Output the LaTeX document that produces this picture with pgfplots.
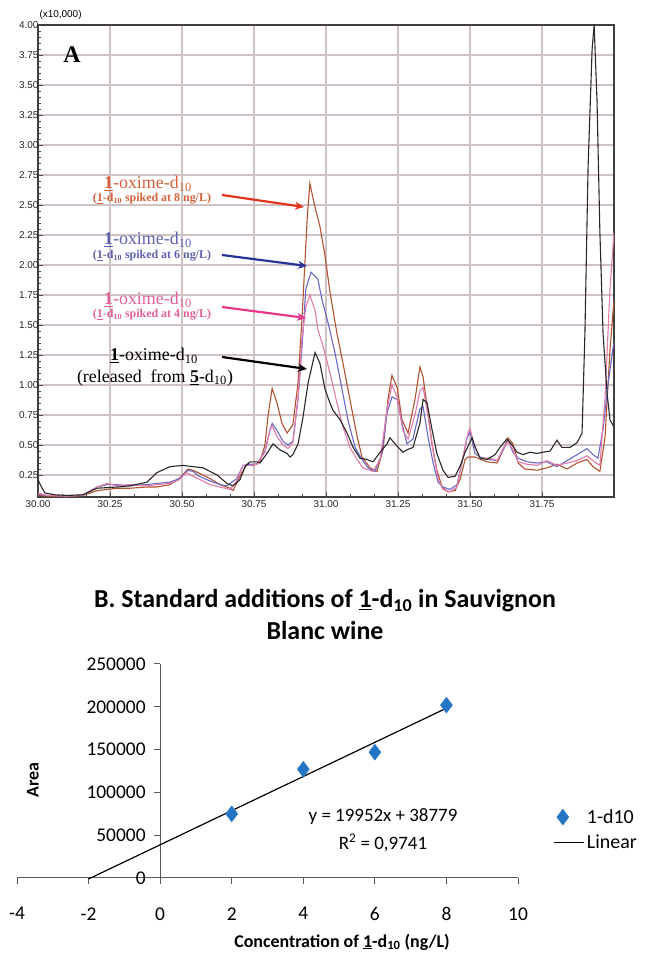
\documentclass[border=0pt]{standalone}
\usepackage{pgfplots}
\pgfplotsset{compat=1.18}
\usepackage{fontspec}
\setmainfont{Liberation Serif}
\setsansfont{Liberation Sans}
\newfontfamily\calibri{Carlito}
\usetikzlibrary{arrows.meta}

\definecolor{cBrown}{RGB}{178,82,48}
\definecolor{cBlue}{RGB}{104,104,200}
\definecolor{cPink}{RGB}{226,122,170}
\definecolor{cBlack}{RGB}{40,40,40}
\definecolor{tRed}{RGB}{214,96,58}
\definecolor{aRed}{RGB}{228,52,30}
\definecolor{tBlue}{RGB}{96,96,176}
\definecolor{aBlue}{RGB}{40,52,150}
\definecolor{tPink}{RGB}{226,96,154}
\definecolor{aPink}{RGB}{232,56,138}
\definecolor{gridc}{RGB}{208,194,194}
\definecolor{xlblue}{RGB}{36,118,196}

\newcommand{\oxime}{\underline{\textbf{1}}-oxime-d\textsubscript{10}}

\begin{document}
\begin{tikzpicture}[x=1bp,y=1bp]
\useasboundingbox (0,0) rectangle (651,956);

% A: chromatogram
\begin{axis}[
    at={(38bp,459bp)}, anchor=south west,
    scale only axis, width=576bp, height=472bp,
    xmin=30, xmax=32, ymin=0.067, ymax=4,
    xtick={30,30.25,...,31.8}, ytick={0.25,0.5,...,4.01},
    minor x tick num=2, minor y tick num=4,
    xticklabel={\pgfmathprintnumber[fixed,fixed zerofill,precision=2]{\tick}},
    yticklabel={\pgfmathprintnumber[fixed,fixed zerofill,precision=2]{\tick}},
    /pgf/number format/assume math mode=true,
    ticklabel style={font=\sffamily\fontsize{10}{11}\selectfont, text=black!85},
    yticklabel style={xshift=4bp},
    tick pos=left, tick align=inside,
    major tick length=5bp, minor tick length=3bp,
    tick style={black!70, line width=0.7bp},
    xmajorgrids, ymajorgrids,
    major grid style={draw=gridc, line width=1.3bp},
    axis line style={black!75, line width=1.2bp},
    no markers, every axis plot/.append style={line width=1.1bp},
]
% 8 ng/L
\addplot[cBrown] coordinates {
(30.000,0.08) (30.03,0.075) (30.10,0.07) (30.156,0.08) (30.205,0.12) (30.274,0.14) (30.319,0.14)
(30.378,0.15) (30.413,0.15) (30.458,0.17) (30.490,0.22) (30.521,0.30) (30.538,0.29) (30.573,0.25)
(30.597,0.22) (30.632,0.17) (30.667,0.14) (30.677,0.12) (30.701,0.24) (30.726,0.34) (30.747,0.33)
(30.771,0.36) (30.788,0.50) (30.799,0.75) (30.813,0.97) (30.830,0.85) (30.847,0.68) (30.865,0.60)
(30.885,0.67) (30.903,1.02) (30.917,1.57) (30.935,2.40) (30.944,2.68) (30.962,2.48) (30.979,2.32)
(30.997,2.07) (31.014,1.77) (31.038,1.43) (31.059,1.18) (31.083,0.88) (31.108,0.57) (31.125,0.40)
(31.153,0.31) (31.177,0.28) (31.198,0.46) (31.215,0.88) (31.229,1.08) (31.247,0.98) (31.264,0.71)
(31.285,0.60) (31.309,0.88) (31.326,1.15) (31.337,1.07) (31.351,0.82) (31.368,0.51) (31.385,0.29)
(31.403,0.15) (31.424,0.11) (31.448,0.12) (31.465,0.21) (31.483,0.38) (31.493,0.40) (31.517,0.40)
(31.559,0.36) (31.594,0.35) (31.615,0.46) (31.632,0.56) (31.649,0.51) (31.667,0.35) (31.691,0.30)
(31.733,0.29) (31.767,0.31) (31.802,0.34) (31.837,0.30) (31.872,0.35) (31.906,0.38) (31.927,0.32)
(31.951,0.28) (31.969,0.57) (31.986,1.29) (32.000,1.71)};
% 6 ng/L
\addplot[cBlue] coordinates {
(30.000,0.09) (30.03,0.08) (30.10,0.075) (30.156,0.085) (30.205,0.15) (30.240,0.17) (30.274,0.17)
(30.319,0.16) (30.378,0.17) (30.413,0.18) (30.458,0.19) (30.490,0.22) (30.521,0.29) (30.538,0.28)
(30.560,0.24) (30.597,0.20) (30.632,0.17) (30.656,0.16) (30.690,0.22) (30.712,0.33) (30.736,0.34)
(30.760,0.34) (30.788,0.45) (30.805,0.62) (30.813,0.68) (30.830,0.62) (30.851,0.53) (30.868,0.50)
(30.885,0.53) (30.903,0.88) (30.917,1.33) (30.930,1.80) (30.948,1.94) (30.965,1.90) (30.972,1.88)
(30.986,1.71) (31.007,1.52) (31.031,1.27) (31.056,0.96) (31.076,0.71) (31.101,0.48) (31.125,0.38)
(31.146,0.31) (31.170,0.28) (31.194,0.43) (31.212,0.77) (31.229,0.90) (31.247,0.88) (31.267,0.65)
(31.281,0.51) (31.302,0.55) (31.326,0.80) (31.337,0.82) (31.354,0.57) (31.372,0.35) (31.389,0.19)
(31.406,0.15) (31.431,0.13) (31.455,0.17) (31.472,0.35) (31.490,0.56) (31.500,0.61) (31.517,0.43)
(31.535,0.40) (31.569,0.38) (31.594,0.37) (31.615,0.46) (31.632,0.54) (31.649,0.44) (31.667,0.39)
(31.698,0.36) (31.733,0.35) (31.767,0.36) (31.802,0.32) (31.837,0.37) (31.872,0.42) (31.906,0.47)
(31.927,0.42) (31.944,0.39) (31.962,0.63) (31.979,1.00) (31.997,1.32) (32.000,1.35)};
% 4 ng/L
\addplot[cPink] coordinates {
(30.000,0.10) (30.03,0.08) (30.10,0.075) (30.156,0.08) (30.205,0.15) (30.240,0.18) (30.274,0.16)
(30.319,0.17) (30.378,0.16) (30.413,0.17) (30.458,0.18) (30.490,0.21) (30.515,0.27) (30.538,0.24)
(30.573,0.20) (30.597,0.17) (30.632,0.15) (30.667,0.13) (30.690,0.20) (30.712,0.33) (30.736,0.33)
(30.760,0.34) (30.788,0.44) (30.805,0.62) (30.813,0.66) (30.830,0.57) (30.851,0.50) (30.868,0.47)
(30.885,0.52) (30.903,0.90) (30.917,1.40) (30.930,1.65) (30.944,1.75) (30.962,1.62) (30.972,1.46)
(30.990,1.32) (31.014,1.10) (31.038,0.85) (31.059,0.65) (31.083,0.48) (31.108,0.38) (31.128,0.31)
(31.163,0.28) (31.188,0.38) (31.212,0.80) (31.229,1.00) (31.247,0.90) (31.267,0.62) (31.285,0.55)
(31.309,0.75) (31.326,0.95) (31.337,0.98) (31.354,0.75) (31.372,0.45) (31.389,0.22) (31.406,0.13)
(31.431,0.11) (31.455,0.15) (31.472,0.36) (31.493,0.60) (31.500,0.64) (31.517,0.48) (31.535,0.39)
(31.569,0.39) (31.594,0.37) (31.615,0.47) (31.632,0.53) (31.649,0.46) (31.667,0.36) (31.698,0.34)
(31.733,0.33) (31.767,0.37) (31.802,0.33) (31.837,0.35) (31.872,0.37) (31.906,0.41) (31.927,0.37)
(31.951,0.33) (31.969,0.90) (31.986,1.80) (32.000,2.27)};
% released from 5-d10
\addplot[cBlack] coordinates {
(30.000,0.21) (30.010,0.16) (30.024,0.10) (30.06,0.085) (30.10,0.08) (30.156,0.085) (30.205,0.14)
(30.274,0.15) (30.319,0.16) (30.378,0.19) (30.413,0.27) (30.458,0.32) (30.503,0.33) (30.538,0.32)
(30.573,0.31) (30.622,0.25) (30.656,0.18) (30.677,0.16) (30.701,0.21) (30.719,0.32) (30.736,0.36)
(30.760,0.36) (30.771,0.35) (30.795,0.43) (30.816,0.51) (30.840,0.46) (30.865,0.43) (30.875,0.40)
(30.885,0.42) (30.903,0.51) (30.920,0.73) (30.938,1.02) (30.962,1.27) (30.979,1.18) (30.997,0.96)
(31.014,0.85) (31.024,0.79) (31.049,0.71) (31.073,0.60) (31.094,0.48) (31.118,0.39) (31.142,0.38)
(31.163,0.36) (31.188,0.44) (31.212,0.51) (31.222,0.56) (31.247,0.49) (31.267,0.44) (31.281,0.46)
(31.302,0.48) (31.326,0.68) (31.337,0.88) (31.351,0.85) (31.368,0.63) (31.385,0.43) (31.406,0.29)
(31.424,0.23) (31.448,0.24) (31.465,0.32) (31.483,0.44) (31.507,0.56) (31.517,0.49) (31.535,0.39)
(31.559,0.38) (31.587,0.42) (31.604,0.48) (31.628,0.55) (31.646,0.50) (31.663,0.44) (31.684,0.42)
(31.708,0.44) (31.733,0.43) (31.753,0.44) (31.778,0.45) (31.802,0.54) (31.819,0.48) (31.847,0.48)
(31.872,0.52) (31.889,0.60) (31.899,1.43) (31.910,2.82) (31.924,3.80) (31.931,4.00) (31.941,3.37)
(31.951,2.27) (31.962,1.43) (31.976,0.93) (31.986,0.71) (32.000,0.65)};
\end{axis}

% annotations of panel A
\node[font=\sffamily\fontsize{10}{11}\selectfont, anchor=west] at (36,941) {(x10,000)};
\node[font=\bfseries\fontsize{24}{26}\selectfont] at (72,901) {A};
\node[text=tRed, font=\fontsize{18}{20}\selectfont] at (148,772) {\oxime};
\node[text=tRed, font=\bfseries\fontsize{12}{13}\selectfont] at (152,757) {(\underline{1}-d\textsubscript{10} spiked at 8 ng/L)};
\draw[aRed, line width=2.2bp, -{Stealth[length=9bp,width=8bp]}] (222,761) -- (304,749);
\node[text=tBlue, font=\fontsize{18}{20}\selectfont] at (148,716) {\oxime};
\node[text=tBlue, font=\bfseries\fontsize{12}{13}\selectfont] at (152,700) {(\underline{1}-d\textsubscript{10} spiked at 6 ng/L)};
\draw[aBlue, line width=2.2bp, -{Stealth[length=9bp,width=8bp]}] (222,701) -- (307,690);
\node[text=tPink, font=\fontsize{18}{20}\selectfont] at (148,656) {\oxime};
\node[text=tPink, font=\bfseries\fontsize{12}{13}\selectfont] at (152,641) {(\underline{1}-d\textsubscript{10} spiked at 4 ng/L)};
\draw[aPink, line width=2.2bp, -{Stealth[length=9bp,width=8bp]}] (222,649) -- (306,638);
\node[text=black, font=\fontsize{18}{20}\selectfont] at (154,600) {\oxime};
\node[text=black, font=\fontsize{18}{20}\selectfont] at (155,578) {(released\ \ from \underline{\textbf{5}}-d\textsubscript{10})};
\draw[black, line width=2.2bp, -{Stealth[length=9bp,width=8bp]}] (222,599) -- (307,587);

% B: standard additions
\begin{axis}[
    at={(17bp,78bp)}, anchor=south west,
    scale only axis, width=501bp, height=214bp,
    xmin=-4, xmax=10, ymin=0, ymax=250000,
    axis x line=middle, axis y line=middle,
    hide obscured x ticks=false, hide obscured y ticks=false,
    axis line style={black!65, line width=1bp, -},
    scaled y ticks=false,
    xtick={-4,-2,...,10}, xticklabels={-4,-2,0,2,4,6,8,10},
    ytick={0,50000,...,250000}, yticklabels={0,50000,100000,150000,200000,250000},
    ticklabel style={font=\calibri\fontsize{19.5}{21}\selectfont, text=black},
    xticklabel style={yshift=-20bp},
    yticklabel style={xshift=-5bp},
    tick align=outside, major tick length=6bp,
    tick style={black!65, line width=1bp},
    clip=false,
    legend style={at={(1.065,0.34)}, anchor=north west, draw=none, fill=none,
        font=\calibri\fontsize{20}{22}\selectfont, row sep=6bp},
    legend cell align=left,
]
\addplot[only marks, mark=diamond*, mark size=8bp, mark options={fill=xlblue, draw=xlblue}]
    coordinates {(2,75000) (4,127000) (6,147000) (8,202000)};
\addlegendentry{1-d10}
\addplot[black, line width=1.2bp, legend image code/.code={\draw[black, line width=1.2bp] (0bp,0bp) -- (30bp,0bp);}]
    coordinates {(-2,-1125) (8,198395)};
\addlegendentry{Linear}
\end{axis}

\node[font=\calibri\bfseries\fontsize{26}{28}\selectfont] at (325,355) {B. Standard additions of \underline{1}-d\textsubscript{10} in Sauvignon};
\node[font=\calibri\bfseries\fontsize{26}{28}\selectfont] at (325,325) {Blanc wine};
\node[font=\calibri\fontsize{19}{21}\selectfont] at (383,139) {y = 19952x + 38779};
\node[font=\calibri\fontsize{19}{21}\selectfont] at (383,113) {R\textsuperscript{2} = 0,9741};
\node[font=\calibri\bfseries\fontsize{18}{20}\selectfont, rotate=90] at (33,176) {Area};
\node[font=\calibri\bfseries\fontsize{18}{20}\selectfont] at (342,14) {Concentration of \underline{1}-d\textsubscript{10} (ng/L)};
\end{tikzpicture}
\end{document}
